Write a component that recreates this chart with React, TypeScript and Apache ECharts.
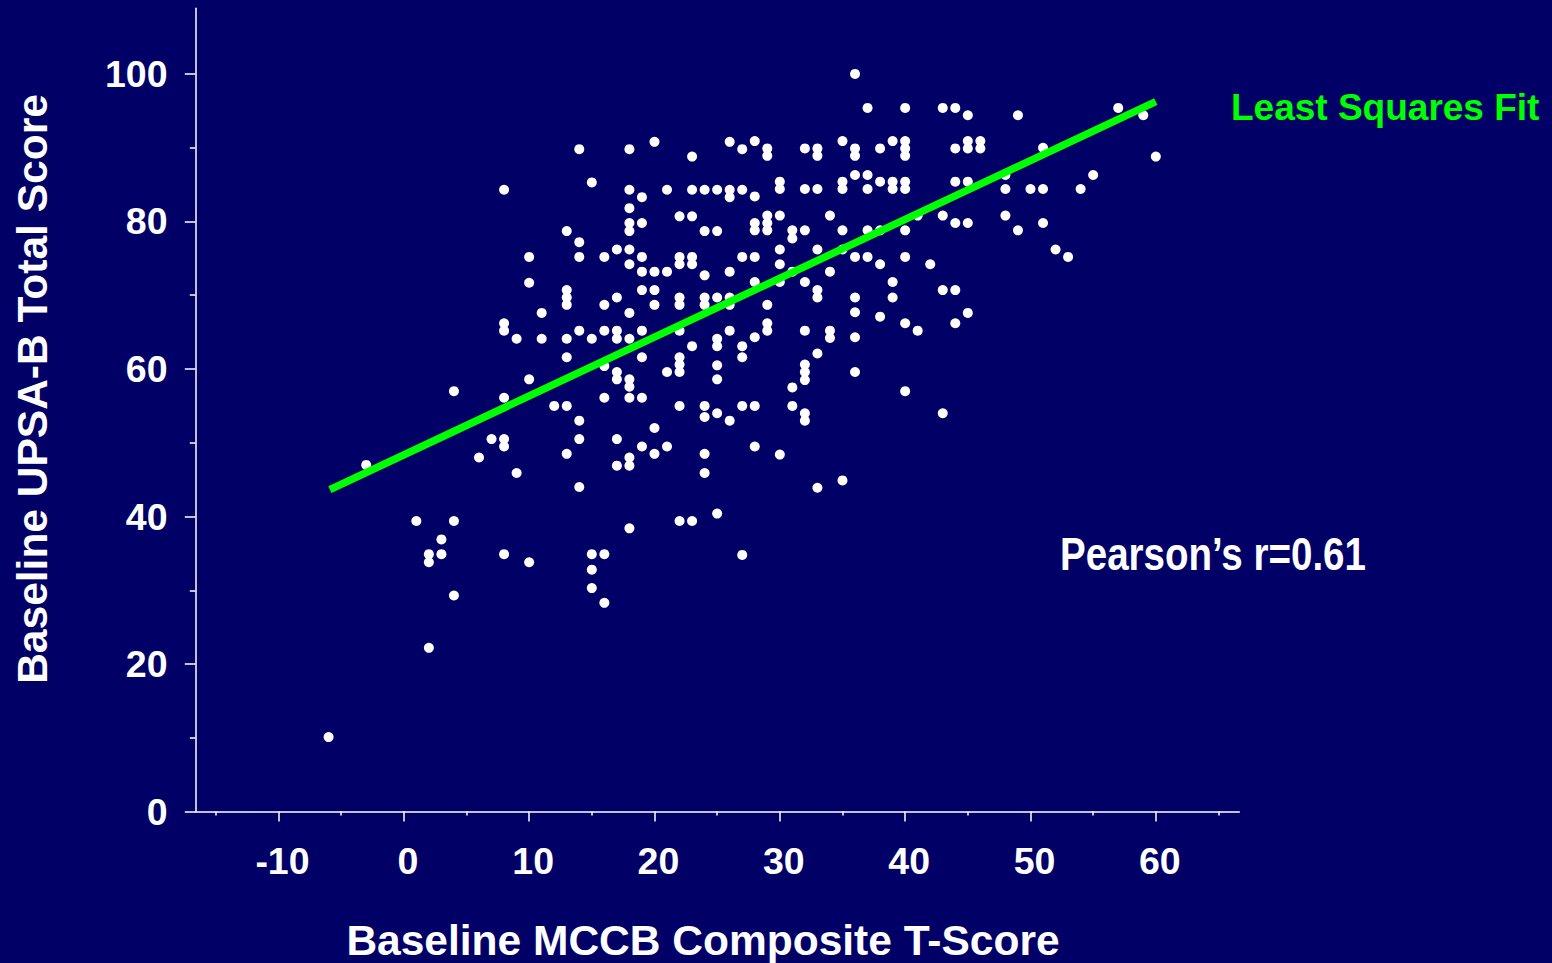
import React, { useEffect, useRef } from "react";
import * as echarts from "echarts";

// [MCCB composite T-score, UPSA-B total score]
const pointsBelow10: [number, number][] = [
  [-6, 10.1], [-3, 47.0], [1, 39.4],
  [2, 34.9], [2, 33.8], [2, 22.2],
  [3, 36.9], [3, 34.9],
  [4, 57.0], [4, 39.4], [4, 29.3],
  [6, 48.0], [7, 50.5],
  [8, 84.3], [8, 66.2], [8, 65.2], [8, 56.1], [8, 50.5], [8, 49.5], [8, 34.9],
  [9, 64.1], [9, 45.9],
];
const points10to19: [number, number][] = [
  [10, 75.2], [10, 71.7], [10, 58.6], [10, 33.8],
  [11, 67.6], [11, 64.1],
  [12, 55.0],
  [13, 78.7], [13, 70.7], [13, 69.7], [13, 68.7], [13, 64.1], [13, 61.6], [13, 55.0], [13, 48.5],
  [14, 89.8], [14, 77.2], [14, 75.2], [14, 65.2], [14, 53.0], [14, 50.5], [14, 44.0],
  [15, 85.3], [15, 64.1], [15, 34.9], [15, 32.8], [15, 30.3],
  [16, 75.2], [16, 68.7], [16, 65.2], [16, 60.4], [16, 56.1], [16, 34.9], [16, 28.3],
  [17, 76.2], [17, 69.7], [17, 65.2], [17, 64.1], [17, 59.6], [17, 58.6], [17, 50.5], [17, 46.9],
  [18, 89.8], [18, 84.3], [18, 81.8], [18, 79.8], [18, 78.7], [18, 76.2], [18, 74.2], [18, 67.6],
  [18, 64.1], [18, 58.6], [18, 57.6], [18, 56.1], [18, 48.0], [18, 46.9], [18, 38.4],
  [19, 83.3], [19, 79.8], [19, 75.2], [19, 73.2], [19, 70.7], [19, 65.2], [19, 61.6], [19, 56.1], [19, 49.5],
];
const points20to29: [number, number][] = [
  [20, 90.8], [20, 73.2], [20, 70.7], [20, 68.7], [20, 52.0], [20, 48.5],
  [21, 84.3], [21, 73.2], [21, 59.6], [21, 49.5],
  [22, 80.7], [22, 75.2], [22, 74.2], [22, 69.7], [22, 68.7], [22, 65.2], [22, 61.6], [22, 60.6],
  [22, 59.6], [22, 55.0], [22, 39.4],
  [23, 88.8], [23, 84.3], [23, 80.7], [23, 75.2], [23, 74.2], [23, 63.1], [23, 39.4],
  [24, 84.3], [24, 78.7], [24, 72.7], [24, 69.7], [24, 68.7], [24, 55.0], [24, 53.5], [24, 48.5], [24, 45.9],
  [25, 84.3], [25, 78.7], [25, 69.7], [25, 64.1], [25, 63.1], [25, 60.5], [25, 58.6], [25, 54.0], [25, 40.4],
  [26, 90.8], [26, 84.3], [26, 83.3], [26, 73.2], [26, 69.7], [26, 68.7], [26, 65.2], [26, 53.0],
  [27, 89.8], [27, 84.3], [27, 75.2], [27, 63.1], [27, 61.6], [27, 55.0], [27, 34.8],
  [28, 90.9], [28, 83.4], [28, 79.8], [28, 78.8], [28, 75.2], [28, 71.8], [28, 64.3], [28, 55.0], [28, 49.5],
  [29, 89.9], [29, 88.9], [29, 80.8], [29, 79.8], [29, 78.8], [29, 68.7], [29, 66.2], [29, 65.2],
];
const points30to39: [number, number][] = [
  [30, 85.4], [30, 84.4], [30, 80.8], [30, 76.2], [30, 74.2], [30, 71.8], [30, 48.4],
  [31, 78.8], [31, 77.7], [31, 73.2], [31, 57.5], [31, 55.0],
  [32, 89.9], [32, 84.4], [32, 78.8], [32, 71.8], [32, 65.2], [32, 60.6], [32, 59.6], [32, 58.5], [32, 54.0], [32, 53.0],
  [33, 89.9], [33, 88.9], [33, 84.4], [33, 76.2], [33, 70.7], [33, 69.7], [33, 62.1], [33, 43.9],
  [34, 80.8], [34, 73.2], [34, 65.2], [34, 64.2],
  [35, 90.9], [35, 85.4], [35, 84.4], [35, 78.8], [35, 76.2], [35, 44.9],
  [36, 100.0], [36, 89.9], [36, 88.9], [36, 86.3], [36, 75.2], [36, 69.7], [36, 67.7], [36, 64.3], [36, 59.6],
  [37, 95.4], [37, 86.3], [37, 84.4], [37, 78.8], [37, 75.2],
  [38, 89.9], [38, 85.4], [38, 78.8], [38, 74.2], [38, 67.1],
  [39, 90.9], [39, 85.4], [39, 84.4], [39, 71.8], [39, 69.7],
];
const points40up: [number, number][] = [
  [40, 95.4], [40, 90.9], [40, 89.9], [40, 88.9], [40, 85.4], [40, 84.4], [40, 78.8], [40, 75.2], [40, 66.2], [40, 57.0],
  [41, 80.8], [41, 65.2],
  [42, 74.2],
  [43, 95.4], [43, 80.8], [43, 70.7], [43, 54.0],
  [44, 95.4], [44, 89.9], [44, 85.4], [44, 79.8], [44, 70.7], [44, 66.2],
  [45, 94.4], [45, 90.9], [45, 89.9], [45, 85.4], [45, 79.8], [45, 67.6],
  [46, 90.9], [46, 89.9],
  [48, 86.3], [48, 84.4], [48, 80.8],
  [49, 94.4], [49, 78.8],
  [50, 84.4],
  [51, 90.0], [51, 84.4], [51, 79.8],
  [52, 76.2], [53, 75.2], [54, 84.4], [55, 86.3],
  [57, 95.4], [59, 94.4], [60, 88.8],
];

// least squares fit line end points
const fitLine: [number, number][] = [[-5.9, 43.65], [60, 96.25]];

const xMajorTicks = [-10, 0, 10, 20, 30, 40, 50, 60];
const xMinorTicks = [-15, -5, 5, 15, 25, 35, 45, 55, 65];
const yMajorTicks = [0, 20, 40, 60, 80, 100];
const yMinorTicks = [10, 30, 50, 70, 90];

const X_MIN = -16.62;
const X_MAX = 66.66;
const Y_MIN = 0;
const Y_MAX = 108.9;

const FONT = '"Liberation Sans", Arial, Helvetica, sans-serif';

export default function App() {
  const ref = useRef<HTMLDivElement>(null);

  useEffect(() => {
    if (!ref.current) return;
    const chart = echarts.init(ref.current, null, { renderer: "svg" });
    const allPoints = [
      ...pointsBelow10,
      ...points10to19,
      ...points20to29,
      ...points30to39,
      ...points40up,
    ];
    const lineStyle = { color: "#ffffff", width: 1.5 };
    const labelStyle = {
      color: "#ffffff",
      fontSize: 37.5,
      fontWeight: "bold" as const,
      fontFamily: FONT,
    };
    chart.setOption({
      animation: false,
      backgroundColor: "#000066",
      grid: { left: 195.5, right: 312.7, top: 8.3, bottom: 151.4, containLabel: false },
      xAxis: [
        {
          type: "value",
          min: X_MIN,
          max: X_MAX,
          position: "bottom",
          axisLine: { show: true, onZero: false, lineStyle },
          axisTick: { show: true, customValues: xMajorTicks, length: 10, lineStyle },
          axisLabel: { ...labelStyle, customValues: xMajorTicks, margin: 30, padding: [0, 0, 0, 8] },
          splitLine: { show: false },
        },
        {
          type: "value",
          min: X_MIN,
          max: X_MAX,
          position: "bottom",
          axisLine: { show: false, onZero: false },
          axisTick: { show: true, customValues: xMinorTicks, length: 4, lineStyle },
          axisLabel: { show: false },
          splitLine: { show: false },
        },
      ],
      yAxis: [
        {
          type: "value",
          min: Y_MIN,
          max: Y_MAX,
          position: "left",
          axisLine: { show: true, onZero: false, lineStyle },
          axisTick: { show: true, customValues: yMajorTicks, length: 10.7, lineStyle },
          axisLabel: { ...labelStyle, customValues: yMajorTicks, margin: 28 },
          splitLine: { show: false },
        },
        {
          type: "value",
          min: Y_MIN,
          max: Y_MAX,
          position: "left",
          axisLine: { show: false, onZero: false },
          axisTick: { show: true, customValues: yMinorTicks, length: 5.7, lineStyle },
          axisLabel: { show: false },
          splitLine: { show: false },
        },
      ],
      series: [
        {
          type: "scatter",
          xAxisIndex: 0,
          yAxisIndex: 0,
          data: allPoints,
          symbol: "circle",
          symbolSize: 10,
          itemStyle: { color: "#ffffff", opacity: 1 },
          silent: true,
        },
        {
          type: "line",
          xAxisIndex: 0,
          yAxisIndex: 0,
          data: fitLine,
          symbol: "none",
          lineStyle: { color: "#00ff00", width: 7.5, cap: "butt" },
          silent: true,
        },
      ],
      graphic: [
        {
          type: "text",
          x: 32,
          y: 389,
          rotation: Math.PI / 2,
          style: {
            text: "Baseline UPSA-B Total Score",
            fill: "#ffffff",
            fontSize: 42.5,
            fontWeight: "bold",
            fontFamily: FONT,
            align: "center",
            verticalAlign: "middle",
          },
        },
        {
          type: "text",
          x: 703,
          y: 940.5,
          style: {
            text: "Baseline MCCB Composite T-Score",
            fill: "#ffffff",
            fontSize: 42.5,
            fontWeight: "bold",
            fontFamily: FONT,
            align: "center",
            verticalAlign: "middle",
          },
        },
        {
          type: "text",
          x: 1231,
          y: 107.3,
          style: {
            text: "Least Squares Fit",
            fill: "#00ff00",
            fontSize: 37,
            fontWeight: "bold",
            fontFamily: FONT,
            align: "left",
            verticalAlign: "middle",
          },
        },
        {
          type: "text",
          x: 1060,
          y: 553.7,
          scaleX: 0.82,
          style: {
            text: "Pearson\u2019s r=0.61",
            fill: "#ffffff",
            fontSize: 47,
            fontWeight: "bold",
            fontFamily: FONT,
            align: "left",
            verticalAlign: "middle",
          },
        },
      ],
    });
    return () => chart.dispose();
  }, []);

  return (
    <div
      ref={ref}
      style={{ position: "fixed", left: 0, top: 0, width: 1552, height: 963 }}
    />
  );
}
